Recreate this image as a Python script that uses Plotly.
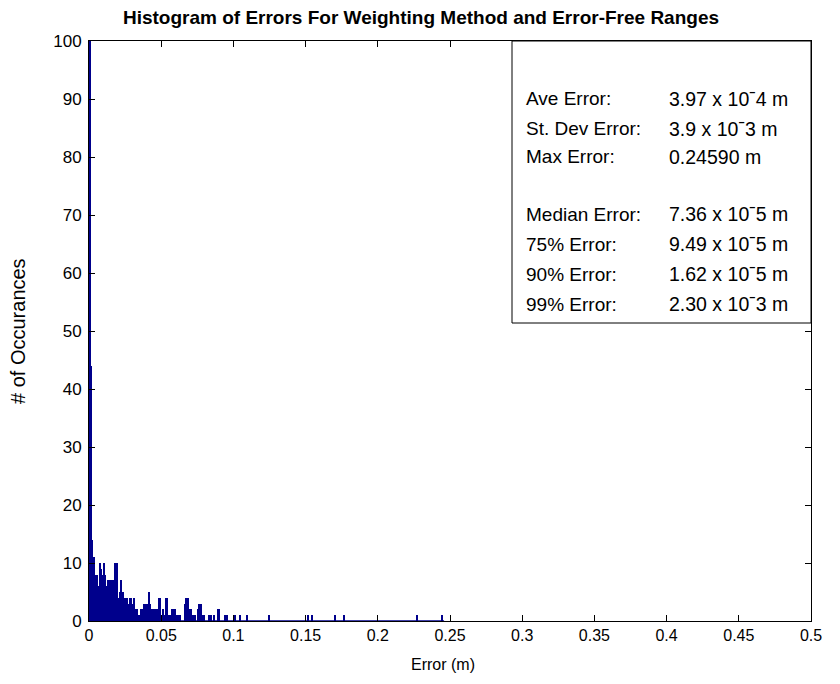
import plotly.graph_objects as go

# ---------------- data ----------------
bin_width = 0.001
# counts of the dense part of the histogram, bins starting at 0 (width 0.001)
dense_counts = [180, 44, 14, 11, 8, 8, 6, 10, 9, 8,
                10, 8, 6, 7, 7, 7, 7, 5, 10, 10,
                4, 5, 7, 5, 4, 4, 4, 3, 4, 4,
                3, 4, 2, 2, 1, 1, 2, 2, 3, 3,
                3, 5, 3, 2, 2, 2, 2, 2, 4, 4,
                1, 2, 1, 4, 4, 1, 1, 2, 2, 2,
                1, 1, 1, 1, 0, 0, 3, 4, 4, 2,
                2, 0, 1, 1, 0, 2, 3, 3, 1, 1,
                0, 0, 0, 1, 1, 0, 1, 0, 0, 2,
                2, 0, 0, 0, 1, 1]
# isolated outliers (bin centers, m) and their counts
sparse_errors = [0.1015, 0.1045, 0.1095, 0.1245, 0.1515, 0.1545, 0.1705, 0.1765, 0.2275, 0.2445]
sparse_counts = [1, 1, 1, 1, 1, 1, 1, 1, 1, 1]
max_error = 0.24590

stat_labels = ["Ave Error:", "St. Dev Error:", "Max Error:", "",
               "Median Error:", "75% Error:", "90% Error:", "99% Error:"]
stat_values = ["3.97 x 10ˉ4 m", "3.9 x 10ˉ3 m", "0.24590 m", "",
               "7.36 x 10ˉ5 m", "9.49 x 10ˉ5 m", "1.62 x 10ˉ5 m", "2.30 x 10ˉ3 m"]

x_ticks = [0, 0.05, 0.1, 0.15, 0.2, 0.25, 0.3, 0.35, 0.4, 0.45, 0.5]
x_ticktext = ["0", "0.05", "0.1", "0.15", "0.2", "0.25", "0.3", "0.35", "0.4", "0.45", "0.5"]
y_ticks = list(range(0, 101, 10))

# ---------------- figure ----------------
FONT = "Liberation Sans, Arial, sans-serif"
NAVY = "#00008C"

centers = [bin_width * (i + 0.5) for i in range(len(dense_counts))] + sparse_errors
counts = dense_counts + sparse_counts

fig = go.Figure()
fig.add_trace(go.Bar(x=centers, y=counts, width=bin_width,
                     marker=dict(color=NAVY, line=dict(width=0)),
                     showlegend=False, hoverinfo="skip"))
# baseline drawn by the empty bins' edges
fig.add_trace(go.Scatter(x=[0, max_error], y=[0, 0], mode="lines",
                         line=dict(color=NAVY, width=1.5),
                         showlegend=False, hoverinfo="skip", cliponaxis=False))

OFF = 7  # page offset of the plot div
W, H = 840, 684
L, T = 88 - OFF, 40 - OFF
pw, ph = 722, 580
R, B = W - L - pw, H - T - ph

def px(xp):  # page x -> paper
    return (xp - 88) / pw

def py(yp):  # page y -> paper
    return (620 - yp) / ph

# statistics box
fig.add_shape(type="rect", xref="paper", yref="paper",
              x0=px(511), x1=1, y0=py(322), y1=1,
              line=dict(color="black", width=1), fillcolor="white", layer="above")
row_y = [98, 128, 156, 185, 213, 243, 273, 303]
for lab, val, yy in zip(stat_labels, stat_values, row_y):
    if lab:
        fig.add_annotation(xref="paper", yref="paper", x=px(523), y=py(yy),
                           text=lab, showarrow=False, xanchor="left", yanchor="middle",
                           font=dict(family=FONT, size=19, color="black"))
        fig.add_annotation(xref="paper", yref="paper", x=px(666), y=py(yy),
                           text=val, showarrow=False, xanchor="left", yanchor="middle",
                           font=dict(family=FONT, size=19.5, color="black"))

# axis titles
fig.add_annotation(xref="paper", yref="paper", x=px(442), y=py(663),
                   text="Error (m)", showarrow=False, xanchor="center", yanchor="middle",
                   font=dict(family=FONT, size=16, color="black"))
fig.add_annotation(xref="paper", yref="paper", x=px(17), y=py(330),
                   text="# of Occurances", showarrow=False, textangle=-90,
                   xanchor="center", yanchor="middle",
                   font=dict(family=FONT, size=20, color="black"))

axis_common = dict(showline=True, linecolor="black", linewidth=1, mirror="allticks",
                   ticks="inside", ticklen=6, tickcolor="black", showgrid=False,
                   zeroline=False)

fig.update_layout(
    width=W, height=H,
    margin=dict(l=L, r=R, t=T, b=B, pad=0),
    paper_bgcolor="white", plot_bgcolor="white",
    bargap=0,
    title=dict(text="<b>Histogram of Errors For Weighting Method and Error-Free Ranges</b>",
               x=(420 - OFF) / W, xanchor="center", y=1 - 3 / H, yanchor="top",
               font=dict(family=FONT, size=19, color="black")),
    xaxis=dict(range=[0, 0.5], tickvals=x_ticks, ticktext=x_ticktext,
               tickfont=dict(family=FONT, size=16, color="black"),
               **axis_common),
    yaxis=dict(range=[0, 100], tickvals=y_ticks, ticklabelstandoff=3,
               tickfont=dict(family=FONT, size=17, color="black"),
               **axis_common),
)

fig.write_html("out.html")
